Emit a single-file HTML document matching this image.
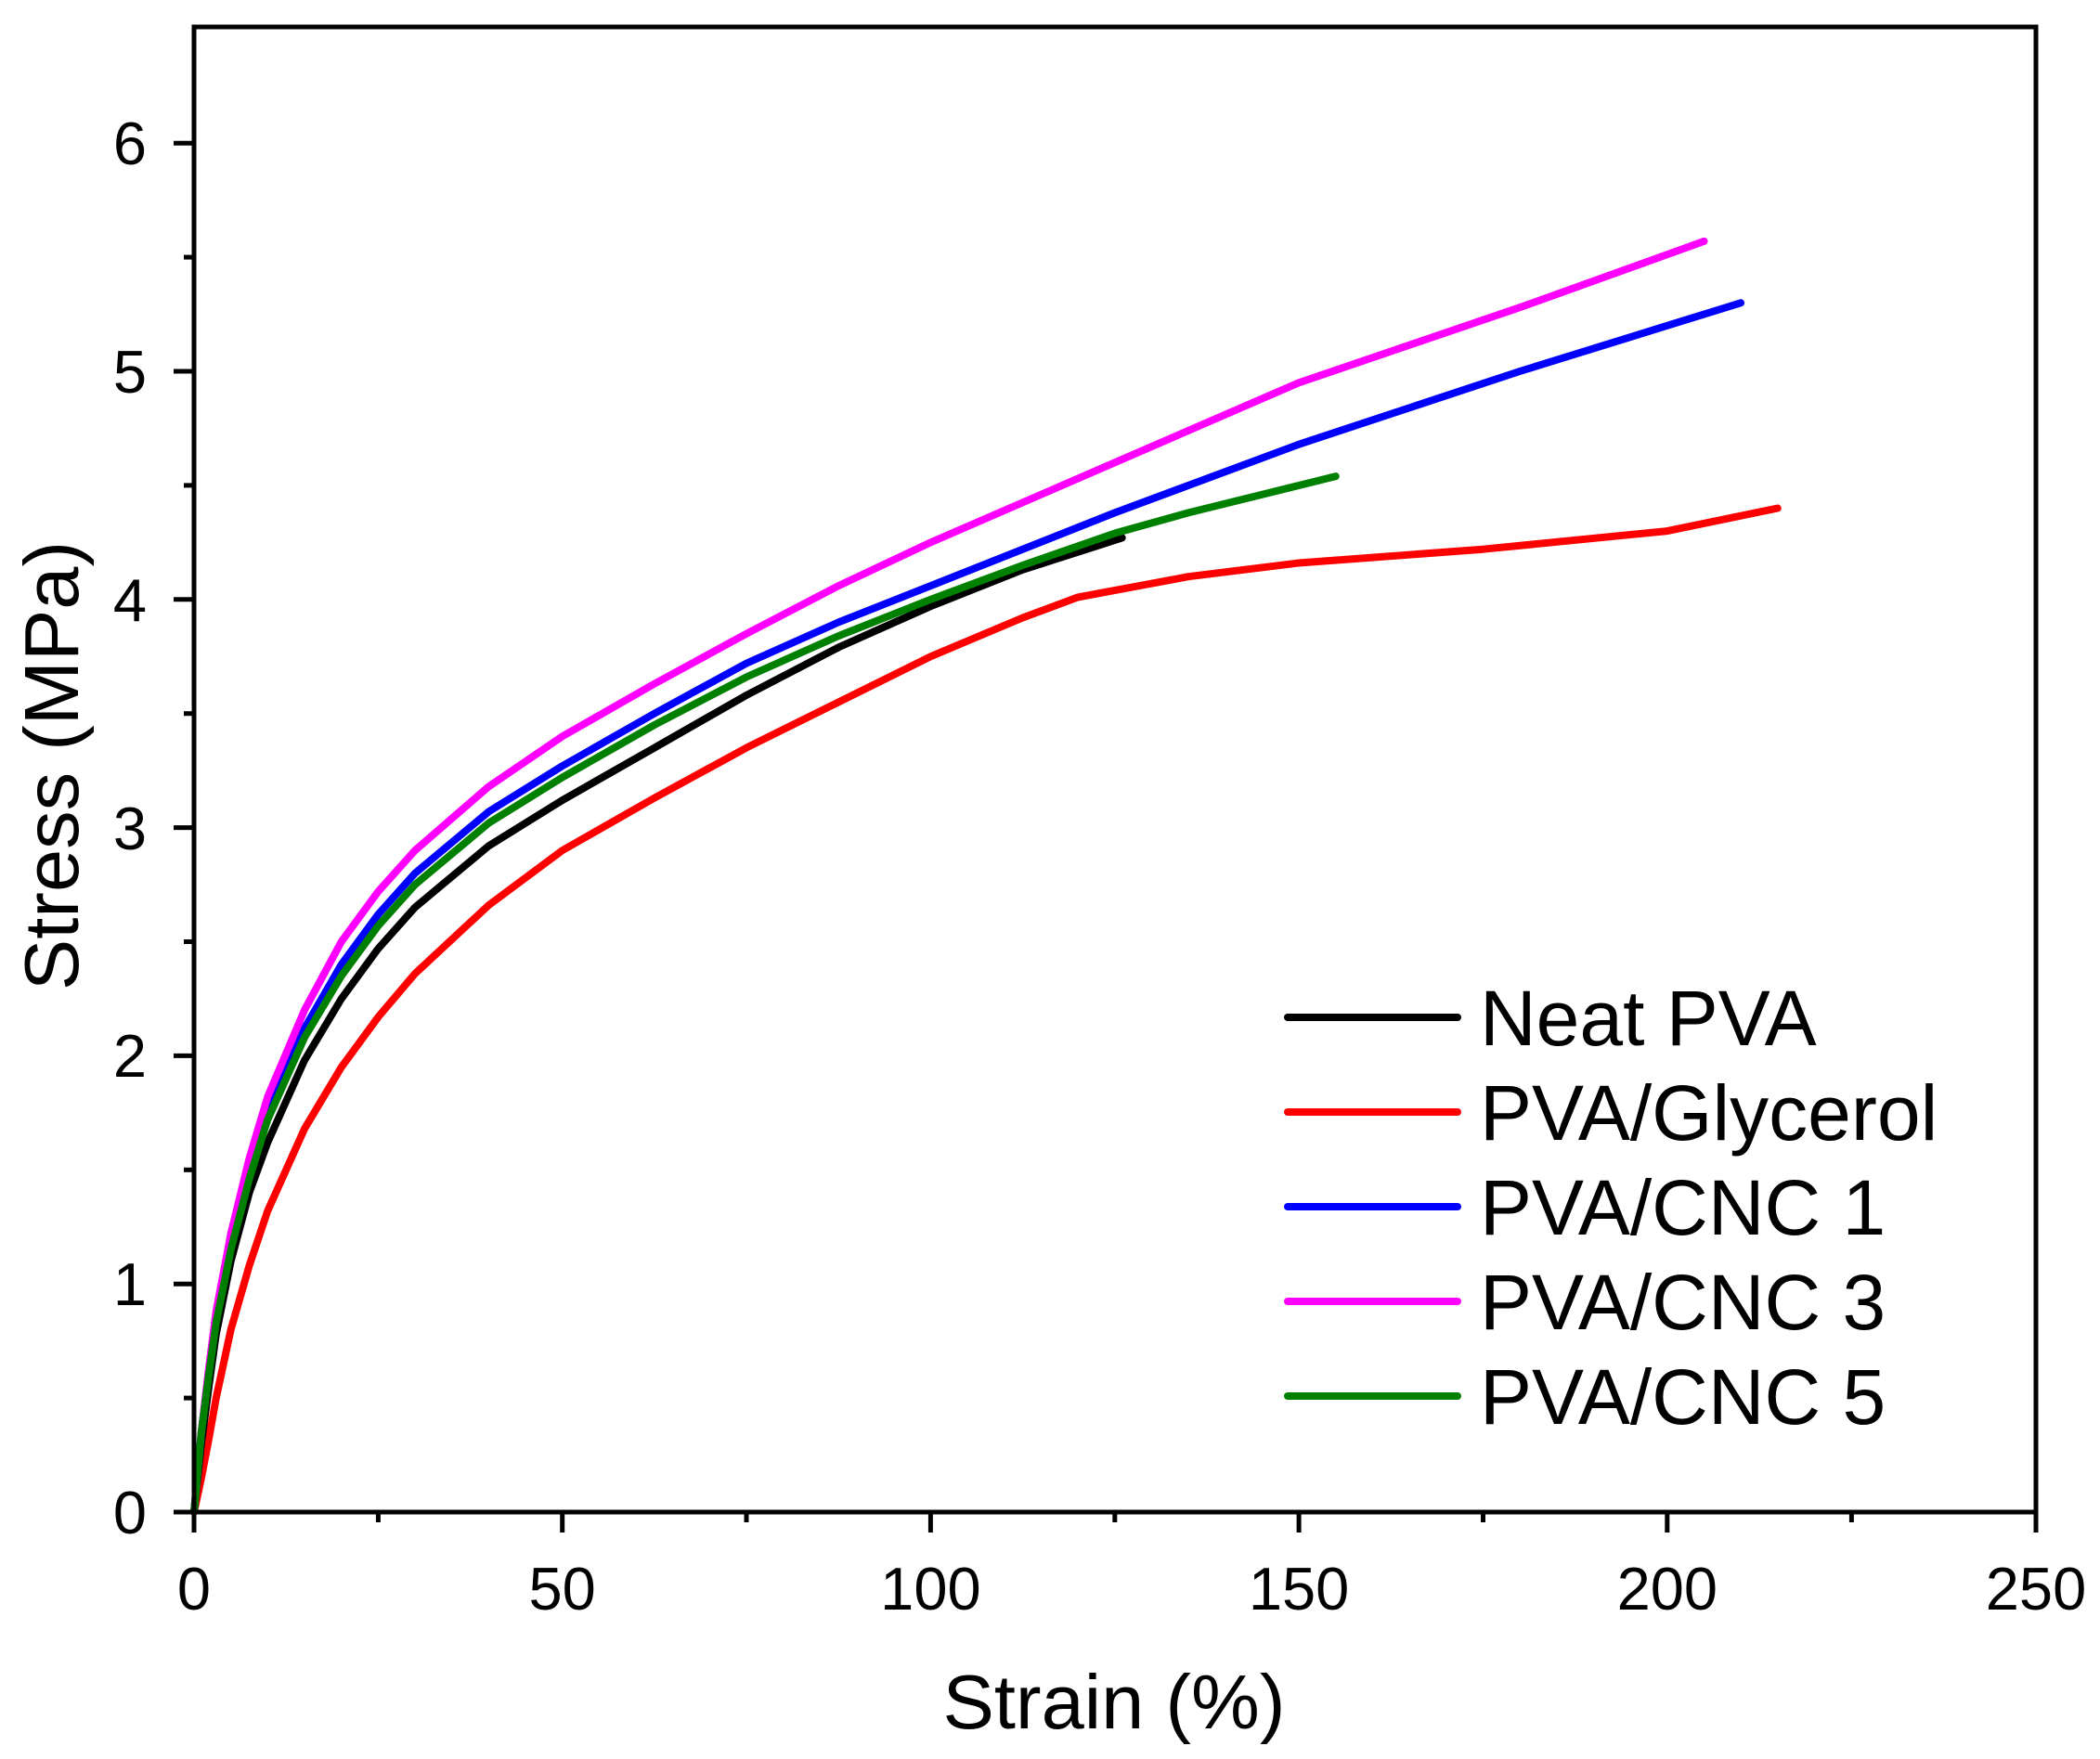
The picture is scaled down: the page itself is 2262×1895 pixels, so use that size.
<!DOCTYPE html>
<html><head><meta charset="utf-8"><style>html,body{margin:0;padding:0;background:#fff}svg{display:block}</style></head>
<body>
<svg width="2262" height="1895" viewBox="0 0 2262 1895" xmlns="http://www.w3.org/2000/svg" font-family="Liberation Sans, Arial, sans-serif">
<rect width="2262" height="1895" fill="#fff"/>
<g fill="none" stroke-width="8" stroke-linejoin="round" stroke-linecap="round">
<polyline stroke="#ff0000" points="209,1629 216.9,1592.1 224.9,1550.3 232.8,1506.1 248.7,1432.4 268.5,1363.5 288.3,1304.5 328,1216.1 367.7,1149.7 407.4,1095.6 447,1048.9 526.4,975.2 605.7,916.2 704.9,859.7 804,805.6 903.2,756.4 1002.4,707.3 1101.6,665.5 1161,643.4 1280.1,621.2 1399.1,606.5 1597.5,591.7 1795.8,572.1 1914.8,547.5"/>
<polyline stroke="#000000" points="209,1629 216.9,1555.3 224.9,1493.8 232.8,1437.3 248.7,1358.6 268.5,1284.9 288.3,1230.8 328,1142.3 367.7,1076 407.4,1021.9 447,977.6 526.4,911.3 605.7,862.1 704.9,805.6 804,749 903.2,697.4 1002.4,653.2 1101.6,613.8 1208.7,579.4"/>
<polyline stroke="#0000ff" points="209,1629 216.9,1543 224.9,1476.6 232.8,1420.1 248.7,1339 268.5,1260.3 288.3,1198.9 328,1107.9 367.7,1039.1 407.4,985 447,940.8 526.4,874.4 605.7,825.2 704.9,768.7 804,714.6 903.2,670.4 1002.4,631.1 1200.8,552.4 1399.1,478.7 1637.1,400 1875.1,326.3"/>
<polyline stroke="#ff00ff" points="209,1629 216.9,1543 224.9,1474.1 232.8,1412.7 248.7,1329.1 268.5,1248 288.3,1181.6 328,1088.2 367.7,1014.5 407.4,960.4 447,916.2 526.4,847.4 605.7,793.3 704.9,736.7 804,682.7 903.2,631.1 1002.4,584.4 1200.8,498.3 1399.1,412.3 1637.1,331.2 1835.5,259.9"/>
<polyline stroke="#008000" points="209,1629 216.9,1543 224.9,1481.5 232.8,1425 248.7,1346.3 268.5,1270.1 288.3,1206.2 328,1117.7 367.7,1051.4 407.4,997.3 447,953.1 526.4,886.7 605.7,837.5 704.9,781 804,729.4 903.2,685.1 1002.4,645.8 1101.6,609 1200.8,574.5 1280.1,552.4 1438.8,513.1"/>
</g>
<rect x="209" y="29" width="1984" height="1600" fill="none" stroke="#000" stroke-width="5"/>
<g stroke="#000" stroke-width="5">
<line x1="209" y1="1629" x2="209" y2="1651"/><line x1="605.7" y1="1629" x2="605.7" y2="1651"/><line x1="1002.4" y1="1629" x2="1002.4" y2="1651"/><line x1="1399.1" y1="1629" x2="1399.1" y2="1651"/><line x1="1795.8" y1="1629" x2="1795.8" y2="1651"/><line x1="2193" y1="1629" x2="2193" y2="1651"/>
<line x1="407.4" y1="1629" x2="407.4" y2="1640"/><line x1="804" y1="1629" x2="804" y2="1640"/><line x1="1200.8" y1="1629" x2="1200.8" y2="1640"/><line x1="1597.5" y1="1629" x2="1597.5" y2="1640"/><line x1="1994.4" y1="1629" x2="1994.4" y2="1640"/>
<line x1="209" y1="1629" x2="187" y2="1629"/><line x1="209" y1="1383.2" x2="187" y2="1383.2"/><line x1="209" y1="1137.4" x2="187" y2="1137.4"/><line x1="209" y1="891.6" x2="187" y2="891.6"/><line x1="209" y1="645.8" x2="187" y2="645.8"/><line x1="209" y1="400" x2="187" y2="400"/><line x1="209" y1="154.2" x2="187" y2="154.2"/>
<line x1="209" y1="1506.1" x2="198" y2="1506.1"/><line x1="209" y1="1260.3" x2="198" y2="1260.3"/><line x1="209" y1="1014.5" x2="198" y2="1014.5"/><line x1="209" y1="768.7" x2="198" y2="768.7"/><line x1="209" y1="522.9" x2="198" y2="522.9"/><line x1="209" y1="277.1" x2="198" y2="277.1"/>
</g>
<g font-size="65" fill="#000" text-anchor="middle">
<text x="209" y="1734">0</text><text x="605.7" y="1734">50</text><text x="1002.4" y="1734">100</text><text x="1399.1" y="1734">150</text><text x="1795.8" y="1734">200</text><text x="2193" y="1734">250</text>
</g>
<g font-size="65" fill="#000" text-anchor="end">
<text x="158" y="1652">0</text><text x="158" y="1406">1</text><text x="158" y="1160">2</text><text x="158" y="915">3</text><text x="158" y="669">4</text><text x="158" y="423">5</text><text x="158" y="177">6</text>
</g>
<text x="1200" y="1862" font-size="83" text-anchor="middle">Strain (%)</text>
<text transform="translate(84,825) rotate(-90)" font-size="83" text-anchor="middle">Stress (MPa)</text>
<g stroke-width="8" stroke-linecap="round">
<line x1="1387" y1="1096" x2="1570" y2="1096" stroke="#000"/>
<line x1="1387" y1="1198" x2="1570" y2="1198" stroke="#ff0000"/>
<line x1="1387" y1="1300" x2="1570" y2="1300" stroke="#0000ff"/>
<line x1="1387" y1="1402" x2="1570" y2="1402" stroke="#ff00ff"/>
<line x1="1387" y1="1504" x2="1570" y2="1504" stroke="#008000"/>
</g>
<g font-size="84" fill="#000">
<text x="1594" y="1126">Neat PVA</text>
<text x="1594" y="1228">PVA/Glycerol</text>
<text x="1594" y="1330">PVA/CNC 1</text>
<text x="1594" y="1432">PVA/CNC 3</text>
<text x="1594" y="1534">PVA/CNC 5</text>
</g>
</svg>
</body></html>
